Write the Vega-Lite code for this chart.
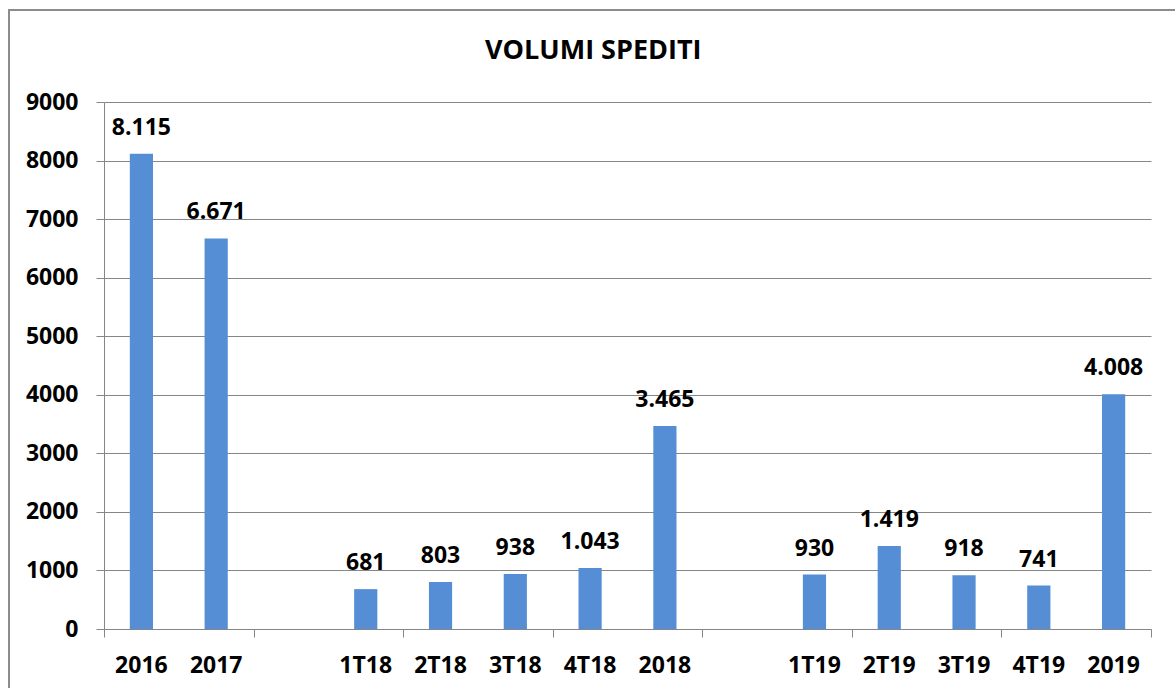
{
  "$schema": "https://vega.github.io/schema/vega-lite/v6.json",
  "width": 1175,
  "height": 690,
  "autosize": "none",
  "padding": {"left": 9, "top": 10, "right": 0, "bottom": 0},
  "config": {
    "locale": {"number": {"decimal": ",", "thousands": ".", "grouping": [3], "currency": ["€", ""]}},
    "view": {"stroke": "#8c8c8c", "strokeWidth": 2},
    "font": "Open Sans"
  },
  "title": {"text": "VOLUMI SPEDITI", "fontSize": 27, "fontWeight": "bold", "font": "Open Sans", "color": "#000000", "anchor": "start", "frame": "group", "dx": 476, "offset": -55},
  "data": {"values": [
    {"periodo": "2016", "volumi": 8115},
    {"periodo": "2017", "volumi": 6671},
    {"periodo": "1T18", "volumi": 681},
    {"periodo": "2T18", "volumi": 803},
    {"periodo": "3T18", "volumi": 938},
    {"periodo": "4T18", "volumi": 1043},
    {"periodo": "2018", "volumi": 3465},
    {"periodo": "1T19", "volumi": 930},
    {"periodo": "2T19", "volumi": 1419},
    {"periodo": "3T19", "volumi": 918},
    {"periodo": "4T19", "volumi": 741},
    {"periodo": "2019", "volumi": 4008}
  ]},
  "encoding": {
    "y": {"field": "volumi", "type": "quantitative",
      "scale": {"domain": [0, 9000], "range": [619, 92], "nice": false, "zero": true},
      "axis": {"orient": "left", "offset": -95, "format": "d", "values": [0,1000,2000,3000,4000,5000,6000,7000,8000,9000],
        "grid": true, "gridColor": "#868686", "gridWidth": 1, "gridOpacity": 1,
        "domain": true, "domainColor": "#868686", "domainWidth": 1,
        "ticks": true, "tickColor": "#868686", "tickSize": 8, "tickWidth": 1,
        "labelFontSize": 23, "labelFont": "Open Sans", "labelFontWeight": "bold", "labelColor": "#000000", "labelPadding": 18, "title": null}}
  },
  "layer": [
    {
      "mark": {"type": "bar", "color": "#558ed5"},
      "encoding": {
        "x": {"field": "periodo", "type": "nominal", "sort": null,
          "scale": {"domain": ["2016","2017"," ","1T18","2T18","3T18","4T18","2018","  ","1T19","2T19","3T19","4T19","2019"], "range": [95, 1142], "paddingInner": 0.69, "paddingOuter": 0.345},
          "axis": {"orient": "bottom", "offset": -71, "ticks": false, "tickSize": 0, "domain": false, "grid": false, "labelPadding": 25, "labelAngle": 0,
            "labelFontSize": 23, "labelFont": "Open Sans", "labelFontWeight": "bold", "labelColor": "#000000", "labelOverlap": false, "title": null}}
      }
    },
    {
      "mark": {"type": "text", "baseline": "alphabetic", "align": "center", "dy": -19, "fontSize": 23, "fontWeight": "bold", "font": "Open Sans", "color": "#000000"},
      "encoding": {
        "x": {"field": "periodo", "type": "nominal", "sort": null,
          "axis": {"orient": "bottom", "offset": -71, "bandPosition": 0, "tickOffset": -25.8, "values": ["2016"," ","2T18","4T18","  ","2T19","4T19"],
            "labels": false, "domain": true, "domainColor": "#868686", "domainWidth": 1, "ticks": true, "tickColor": "#868686", "tickSize": 8, "tickWidth": 1, "grid": false, "title": null}},
        "text": {"field": "volumi", "type": "quantitative", "format": ",d"}
      }
    },
    {
      "mark": {"type": "bar", "opacity": 0},
      "encoding": {
        "x": {"field": "periodo", "type": "nominal", "sort": null,
          "axis": {"orient": "bottom", "offset": -71, "bandPosition": 1, "tickOffset": 25.8, "values": ["2019"],
            "labels": false, "domain": false, "ticks": true, "tickColor": "#868686", "tickSize": 8, "tickWidth": 1, "grid": false, "title": null}}
      }
    }
  ],
  "resolve": {"axis": {"x": "independent"}}
}
